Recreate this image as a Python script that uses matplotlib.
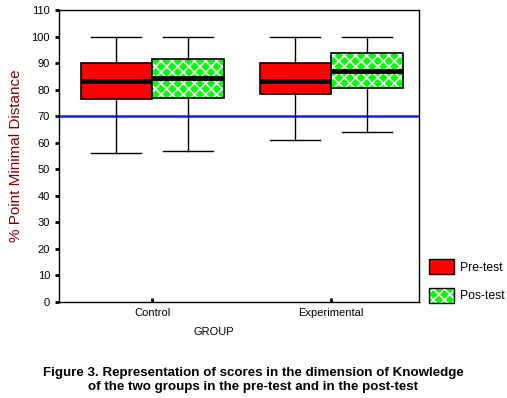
import matplotlib.pyplot as plt
from matplotlib.patches import Patch

plt.rcParams['font.family'] = ['Liberation Sans', 'DejaVu Sans']

# данні
groups = ['Control', 'Experimental']
series = ['Pre-test', 'Pos-test']
whislo = [[56, 61], [57, 64]]
q1 = [[76.5, 78.5], [77, 80.6]]
med = [[83.4, 83.3], [84.4, 87]]
q3 = [[90, 90], [91.5, 93.8]]
whishi = [[100, 100], [100, 100]]
reference = 70
yticks = list(range(0, 111, 10))

fig = plt.figure(figsize=(5.07, 3.98), dpi=100)
ax = fig.add_axes([0.1164, 0.2412, 0.710, 0.7337])

offsets = [-0.2, 0.2]
colors = ['#ff0000', '#00ff00']
plt.rcParams['hatch.linewidth'] = 1.2

for s in range(2):
    stats = []
    for g in range(2):
        stats.append(dict(whislo=whislo[s][g], q1=q1[s][g], med=med[s][g],
                          q3=q3[s][g], whishi=whishi[s][g], fliers=[]))
    pos = [g + 1 + offsets[s] for g in range(2)]
    if s == 1:
        # заливка з білою штриховкою
        ax.bxp(stats, positions=pos, widths=0.4, patch_artist=True,
               showcaps=False, boxprops=dict(facecolor=colors[s], edgecolor='white',
                                             hatch='xxx', linewidth=0),
               whiskerprops=dict(linewidth=0), medianprops=dict(linewidth=0))
        face = 'none'
    else:
        face = colors[s]
    ax.bxp(stats, positions=pos, widths=0.4, patch_artist=True,
           boxprops=dict(facecolor=face, edgecolor='black', linewidth=1.2),
           whiskerprops=dict(color='black', linewidth=1),
           capprops=dict(color='black', linewidth=1), capwidths=0.28,
           medianprops=dict(color='black', linewidth=3.5))

ax.axhline(reference, color='#1a1aff', linewidth=1.8, zorder=0.5)

ax.set_xlim(0.48, 2.49)
ax.set_ylim(0, 110)
ax.set_yticks(yticks)
ax.set_xticks([1, 2])
ax.set_xticklabels(groups, fontsize=8)
ax.tick_params(axis='y', labelsize=8, length=3, width=2, direction='out')
ax.tick_params(axis='x', length=3, width=2, direction='in', pad=4)
for sp in ax.spines.values():
    sp.set_linewidth(1)

ax.set_xlabel('GROUP', fontsize=8)
ax.xaxis.set_label_coords(0.43, -0.085)
ax.set_ylabel('% Point Minimal Distance', fontsize=11, color='#800000', labelpad=6)

handles = [Patch(facecolor=colors[0], edgecolor='black'),
           (Patch(facecolor=colors[1], edgecolor='white', hatch='xxx', linewidth=0),
            Patch(facecolor='none', edgecolor='black'))]
leg = fig.legend(handles, series, loc='lower left', bbox_to_anchor=(0.825, 0.212),
                 frameon=False, fontsize=8.8, handlelength=2.0, handleheight=1.5,
                 labelspacing=1.1, handletextpad=0.5)

fig.text(0.5, 0.045, 'Figure 3. Representation of scores in the dimension of Knowledge\n'
         'of the two groups in the pre-test and in the post-test',
         ha='center', va='center', fontsize=9.6, fontweight='bold', linespacing=1.15)

fig.savefig('out.png', dpi=100)
